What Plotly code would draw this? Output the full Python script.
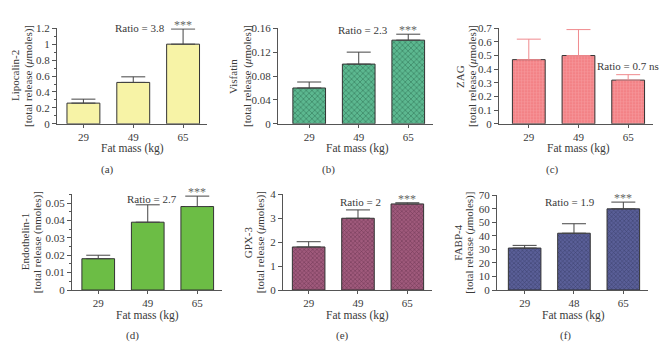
import plotly.graph_objects as go

W, H = 664, 353

# ---- data ----
categories_a = ["29", "49", "65"]
lipocalin = [0.26, 0.52, 1.0]
lipocalin_err = [0.05, 0.07, 0.19]

categories_b = ["29", "49", "65"]
visfatin = [0.06, 0.10, 0.14]
visfatin_err = [0.01, 0.02, 0.01]

categories_c = ["29", "49", "65"]
zag = [0.47, 0.50, 0.32]
zag_err = [0.15, 0.19, 0.04]

categories_d = ["29", "49", "65"]
endothelin = [0.018, 0.039, 0.048]
endothelin_err = [0.002, 0.010, 0.006]

categories_e = ["29", "49", "65"]
gpx3 = [1.8, 3.0, 3.6]
gpx3_err = [0.22, 0.35, 0.05]

categories_f = ["29", "48", "65"]
fabp4 = [31, 42, 60]
fabp4_err = [2, 7, 5]

FONT = "Liberation Serif"
TXT = "#3a3a3a"

def px_x(p):
    return p / W

def px_y(p):
    return 1 - p / H

panels = [
    dict(cats=categories_a, vals=lipocalin, err=lipocalin_err, xd=(57, 207), yd=(23, 122),
         xr=(-0.53, 2.48), yr=(0, 1.2), dtick=0.2, minor=0.1,
         color="#f7f3a6", pat=None, errc="#444444",
         t1="Lipocalin-2", t2="[total release (<i>μ</i>moles)]", tx=(15, 28),
         ratio="Ratio = 3.8", rpx=(140, 23), stars=True, xt=132.5, lab="(a)", lx=107),
    dict(cats=categories_b, vals=visfatin, err=visfatin_err, xd=(278, 433), yd=(23, 122),
         xr=(-0.63, 2.5), yr=(0, 0.16), dtick=0.04, minor=None,
         color="#55ad86", pat=dict(shape="x", fgcolor="#1f5a40", bgcolor="#5cb890", size=4, solidity=0.35),
         errc="#444444",
         t1="Visfatin", t2="[total release (<i>μ</i>moles)]", tx=(233, 247),
         ratio="Ratio = 2.3", rpx=(363, 25), stars=True, xt=357, lab="(b)", lx=328),
    dict(cats=categories_c, vals=zag, err=zag_err, xd=(499, 653), yd=(23, 122),
         xr=(-0.6, 2.5), yr=(0, 0.7), dtick=0.1, minor=None,
         color="#f4888c", pat=dict(shape="+", fgcolor="#f9b4b6", bgcolor="#f38286", size=3, solidity=0.3),
         errc="#f08a8e",
         t1="ZAG", t2="[total release (<i>μ</i>moles)]", tx=(460, 472),
         ratio="Ratio = 0.7 ns", rpx=(628, 62), stars=False, xt=578, lab="(c)", lx=552),
    dict(cats=categories_d, vals=endothelin, err=endothelin_err, xd=(72, 222), yd=(195, 294),
         xr=(-0.53, 2.5), yr=(0, 0.055), dtick=0.01, minor=0.005,
         color="#6cbd45", pat=None, errc="#444444",
         t1="Endothelin-1", t2="[total release (nmoles)]", tx=(25, 37),
         ratio="Ratio = 2.7", rpx=(152, 200), stars=True, xt=147, lab="(d)", lx=132),
    dict(cats=categories_e, vals=gpx3, err=gpx3_err, xd=(283, 432), yd=(195, 294),
         xr=(-0.52, 2.5), yr=(0, 4), dtick=1, minor=None,
         color="#8e4a6c", pat=dict(shape="x", fgcolor="#4a1e34", bgcolor="#a05a7c", size=3, solidity=0.35),
         errc="#444444",
         t1="GPX-3", t2="[total release (<i>μ</i>moles)]", tx=(248, 260),
         ratio="Ratio = 2", rpx=(360, 203), stars=True, xt=357, lab="(e)", lx=342),
    dict(cats=categories_f, vals=fabp4, err=fabp4_err, xd=(497, 648), yd=(196, 294),
         xr=(-0.56, 2.5), yr=(0, 70), dtick=10, minor=None,
         color="#4b5086", pat=dict(shape="x", fgcolor="#23264a", bgcolor="#5a5f98", size=3, solidity=0.35),
         errc="#444444",
         t1="FABP-4", t2="[total release (<i>μ</i>moles)]", tx=(458, 470),
         ratio="Ratio = 1.9", rpx=(570, 203), stars=True, xt=573, lab="(f)", lx=565),
]

fig = go.Figure()
annotations = []
layout = {}

for i, p in enumerate(panels):
    n = i + 1
    xa = "x" if n == 1 else f"x{n}"
    ya = "y" if n == 1 else f"y{n}"
    xkey = "xaxis" if n == 1 else f"xaxis{n}"
    ykey = "yaxis" if n == 1 else f"yaxis{n}"
    marker = dict(color=p["color"], line=dict(color="#333333", width=1))
    if p["pat"]:
        marker["pattern"] = p["pat"]
    fig.add_trace(go.Bar(
        x=[0, 1, 2], y=p["vals"], width=0.66, marker=marker,
        error_y=dict(type="data", symmetric=False, array=p["err"], arrayminus=[0, 0, 0],
                     color=p["errc"], thickness=1, width=12),
        xaxis=xa, yaxis=ya, showlegend=False, hoverinfo="skip",
    ))
    layout[xkey] = dict(
        domain=[px_x(p["xd"][0]), px_x(p["xd"][1])], range=list(p["xr"]),
        anchor=ya, tickmode="array", tickvals=[0, 1, 2], ticktext=p["cats"],
        showline=True, linecolor="#555555", linewidth=1, ticks="outside", ticklen=3,
        tickcolor="#555555", showgrid=False, zeroline=False,
        tickfont=dict(family=FONT, size=11, color=TXT), fixedrange=True,
    )
    yax = dict(
        domain=[px_y(p["yd"][1]), px_y(p["yd"][0])], range=list(p["yr"]),
        anchor=xa, dtick=p["dtick"], tick0=0, showline=True, linecolor="#555555", linewidth=1,
        ticks="outside", ticklen=4, tickcolor="#555555", showgrid=False, zeroline=False,
        tickfont=dict(family=FONT, size=11, color=TXT), fixedrange=True,
    )
    if p["minor"]:
        yax["minor"] = dict(dtick=p["minor"], ticks="outside", ticklen=2, tickcolor="#555555")
    layout[ykey] = yax

    # y title (two rotated lines)
    ymid = (p["yd"][0] + p["yd"][1]) / 2
    for txt, xpx in ((p["t1"], p["tx"][0]), (p["t2"], p["tx"][1])):
        annotations.append(dict(text=txt, x=px_x(xpx), y=px_y(ymid), xref="paper", yref="paper",
                                textangle=-90, showarrow=False, xanchor="center", yanchor="middle",
                                font=dict(family=FONT, size=11, color=TXT)))
    # x title & panel label
    base = p["yd"][1]
    annotations.append(dict(text="Fat mass (kg)", x=px_x(p["xt"]), y=px_y(base + 26), xref="paper",
                            yref="paper", showarrow=False, xanchor="center", yanchor="middle",
                            font=dict(family=FONT, size=11.5, color=TXT)))
    annotations.append(dict(text=p["lab"], x=px_x(p["lx"]), y=px_y(base + 47), xref="paper",
                            yref="paper", showarrow=False, xanchor="center", yanchor="middle",
                            font=dict(family=FONT, size=11, color=TXT)))
    # ratio
    annotations.append(dict(text=p["ratio"], x=px_x(p["rpx"][0]), y=px_y(p["rpx"][1]),
                            xref="paper", yref="paper",
                            showarrow=False, xanchor="center", yanchor="middle",
                            font=dict(family=FONT, size=11, color=TXT)))
    if p["stars"]:
        top = p["vals"][2] + p["err"][2]
        annotations.append(dict(text="***", x=2, y=top, xref=xa, yref=ya, showarrow=False,
                                xanchor="center", yanchor="bottom", yshift=-5,
                                font=dict(family=FONT, size=12, color="#666666")))

fig.update_layout(**layout)
fig.update_layout(
    width=W, height=H, margin=dict(l=0, r=0, t=0, b=0),
    paper_bgcolor="white", plot_bgcolor="white",
    annotations=annotations,
)

fig.write_html("out.html", config={"displayModeBar": False},
               post_script="document.body.style.margin='0px';document.body.style.overflow='hidden';")
